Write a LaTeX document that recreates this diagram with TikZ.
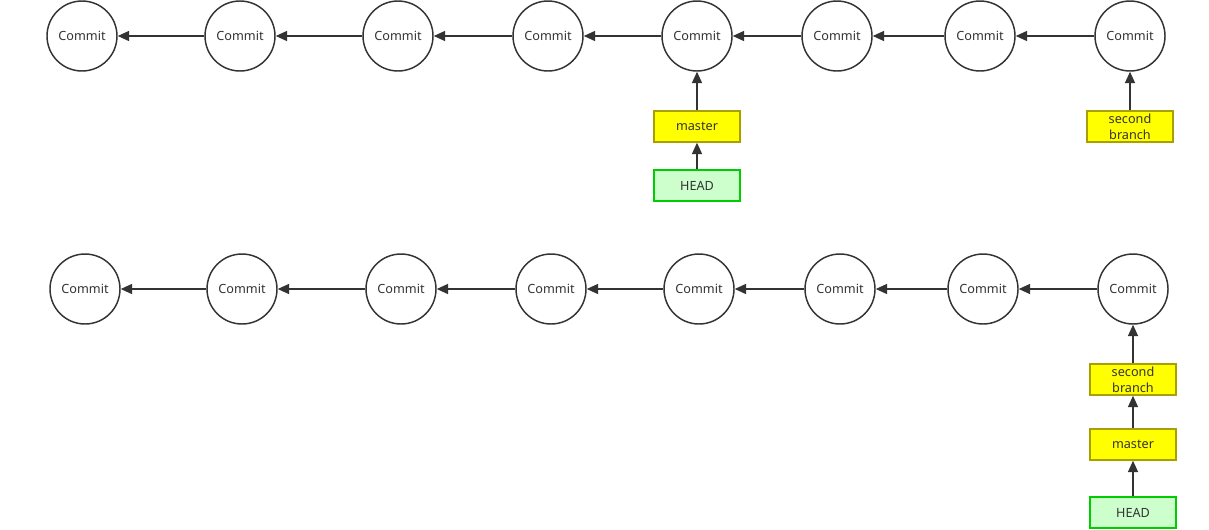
\documentclass[tikz,border=0pt]{standalone}
\usepackage{fontspec}
\setmainfont{Noto Sans}
\usetikzlibrary{arrows.meta}
\definecolor{linegray}{HTML}{333333}
\definecolor{branchfill}{HTML}{FFFF00}
\definecolor{branchline}{HTML}{A8A000}
\definecolor{headfill}{HTML}{CCFFCC}
\definecolor{headline}{HTML}{00CC00}
\tikzset{
  commit/.style={circle,draw=linegray,line width=1.1pt,fill=white,minimum size=52.5pt,inner sep=0pt,text=linegray,font=\fontsize{9.5}{12}\selectfont},
  branch/.style={rectangle,draw=branchline,line width=1.1pt,fill=branchfill,minimum width=64.5pt,minimum height=23.25pt,inner sep=0pt,align=center,text=linegray,font=\fontsize{9.5}{12}\selectfont},
  headref/.style={branch,draw=headline,fill=headfill},
  parent/.style={-{Triangle[length=8.5pt,width=7.5pt]},draw=linegray,line width=1.1pt}
}
\begin{document}
\begin{tikzpicture}[x=0.75pt,y=-0.75pt]
    \useasboundingbox (0,0) rectangle (1209,529);
    % before the merge
    \node[commit] (a1) at (82,36) {Commit};
    \node[commit] (a2) at (240,36) {Commit};
    \node[commit] (a3) at (398,36) {Commit};
    \node[commit] (a4) at (548,36) {Commit};
    \node[commit] (a5) at (697,36) {Commit};
    \node[commit] (a6) at (837,36) {Commit};
    \node[commit] (a7) at (980,36) {Commit};
    \node[commit] (a8) at (1130,36) {Commit};
    \node[branch] (amaster) at (697,126.5) {master};
    \node[headref] (ahead) at (697,185.5) {HEAD};
    \node[branch] (asecond) at (1130,126.5) {second\\branch};
    \draw[parent] (a2) -- (a1);
    \draw[parent] (a3) -- (a2);
    \draw[parent] (a4) -- (a3);
    \draw[parent] (a5) -- (a4);
    \draw[parent] (a6) -- (a5);
    \draw[parent] (a7) -- (a6);
    \draw[parent] (a8) -- (a7);
    \draw[parent] (amaster) -- (a5);
    \draw[parent] (ahead) -- (amaster);
    \draw[parent] (asecond) -- (a8);
    % after the fast-forward
    \node[commit] (b1) at (85,289) {Commit};
    \node[commit] (b2) at (242,289) {Commit};
    \node[commit] (b3) at (401,289) {Commit};
    \node[commit] (b4) at (551,289) {Commit};
    \node[commit] (b5) at (699,289) {Commit};
    \node[commit] (b6) at (840,289) {Commit};
    \node[commit] (b7) at (983,289) {Commit};
    \node[commit] (b8) at (1133,289) {Commit};
    \node[branch] (bsecond) at (1133,379.5) {second\\branch};
    \node[branch] (bmaster) at (1133,444.5) {master};
    \node[headref] (bhead) at (1133,512.5) {HEAD};
    \draw[parent] (b2) -- (b1);
    \draw[parent] (b3) -- (b2);
    \draw[parent] (b4) -- (b3);
    \draw[parent] (b5) -- (b4);
    \draw[parent] (b6) -- (b5);
    \draw[parent] (b7) -- (b6);
    \draw[parent] (b8) -- (b7);
    \draw[parent] (bsecond) -- (b8);
    \draw[parent] (bmaster) -- (bsecond);
    \draw[parent] (bhead) -- (bmaster);
  \end{tikzpicture}
\end{document}
